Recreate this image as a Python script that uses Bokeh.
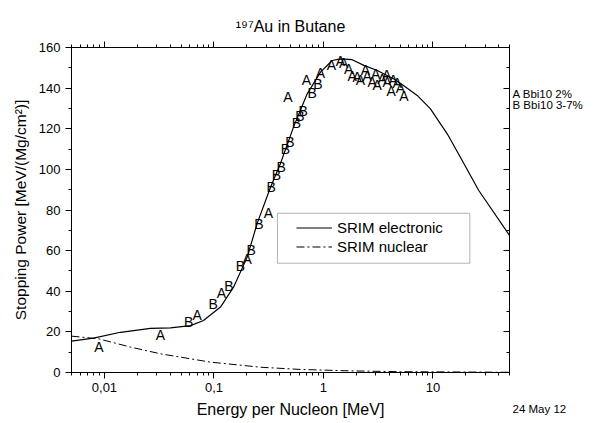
from bokeh.plotting import figure
from bokeh.models import (LogAxis, LinearAxis, FixedTicker, Legend, LegendItem,
                          BoxAnnotation, ColumnDataSource, Range1d)
from bokeh.core.properties import value
from bokeh.embed import file_html
from bokeh.resources import INLINE

FONT = "Liberation Sans"

# ---- data ----
E_el = [0.005, 0.00794, 0.0140, 0.0263, 0.0401, 0.0611, 0.0802, 0.1147, 0.1509,
        0.2012, 0.2482, 0.3284, 0.405, 0.5326, 0.7103, 0.940, 1.20, 1.43, 1.83,
        2.34, 3.10, 4.36, 5.38, 7.18, 9.49, 13.5, 17.8, 26.2, 50.0]
S_el = [15.4, 16.9, 19.8, 21.7, 22.0, 23.1, 25.6, 32.2, 42.0,
        56.8, 73.4, 91.2, 102.9, 120.8, 137.2, 147.9, 153.6, 154.4, 154.0,
        151.2, 148.7, 144.6, 141.3, 136.4, 129.8, 117.5, 106.0, 89.6, 67.5]

E_nu = [0.005, 0.00882, 0.0173, 0.0325, 0.093, 0.266, 0.617, 1.77, 5.05, 50.0]
S_nu = [17.9, 16.6, 12.5, 9.2, 5.1, 2.6, 1.5, 0.8, 0.4, 0.1]

A_E = [0.00888, 0.0325, 0.0703, 0.117, 0.2012, 0.315, 0.473, 0.70, 0.94, 1.18,
       1.43, 1.53, 1.70, 1.83, 2.03, 2.18, 2.42, 2.51, 2.79, 2.99, 3.10, 3.44,
       3.77, 3.82, 4.16, 4.33, 4.71, 5.05, 5.42]
A_S = [12.8, 18.7, 28.1, 39.0, 56.0, 78.3, 135.6, 143.8, 147.4, 151.2,
       153.3, 152.3, 149.5, 146.2, 145.4, 144.1, 148.7, 146.2, 142.9, 147.1, 141.3, 144.6,
       146.6, 142.9, 138.8, 144.1, 142.6, 140.0, 135.9]

B_E = [0.0589, 0.0984, 0.1366, 0.1747, 0.2188, 0.2567, 0.333, 0.372, 0.411,
       0.450, 0.493, 0.567, 0.608, 0.653, 0.789, 0.888]
B_S = [24.8, 33.8, 42.5, 52.2, 60.4, 73.2, 91.2, 97.0, 101.4,
       110.1, 113.4, 122.7, 126.5, 128.7, 137.5, 142.1]

x_major = [0.01, 0.1, 1, 10]
x_labels = ["0,01", "0,1", "1", "10"]
x_minor = [0.005, 0.006, 0.007, 0.008, 0.009,
           0.02, 0.03, 0.04, 0.05, 0.06, 0.07, 0.08, 0.09,
           0.2, 0.3, 0.4, 0.5, 0.6, 0.7, 0.8, 0.9,
           2, 3, 4, 5, 6, 7, 8, 9,
           20, 30, 40, 50]
y_major = [0, 20, 40, 60, 80, 100, 120, 140, 160]
y_minor = [10, 30, 50, 70, 90, 110, 130, 150]

title_text = "\u00b9\u2079\u2077Au in Butane"
date_text = "24 May 12"
series_labels = ["A Bbi10 2%", "B Bbi10 3-7%"]

# layout anchors for the texts at the right of the frame (axis coordinates)
KEY_ROWS = [137.1, 131.7]      # rows of the series key
DATE_ROW = 0                   # the date hangs below the frame's bottom edge
DATE_DROP = 5                  # blank lines pushing the date below the frame

# ---- figure ----
p = figure(width=593, height=423, x_axis_type="log",
           x_range=Range1d(0.005, 50), y_range=Range1d(0, 160),
           output_backend="svg", toolbar_location=None,
           min_border_left=71, min_border_right=84,
           min_border_top=47, min_border_bottom=51)
p.xgrid.visible = False
p.ygrid.visible = False
p.outline_line_color = "black"
p.background_fill_color = "white"
p.border_fill_color = "white"

p.title.text = title_text
p.title.align = "center"
p.title.offset = 6
p.title.standoff = 13
p.title.text_font = FONT
p.title.text_font_size = "16px"
p.title.text_font_style = "normal"
p.title.text_color = "black"

xt = FixedTicker(ticks=x_major, minor_ticks=x_minor)
yt = FixedTicker(ticks=y_major, minor_ticks=y_minor)


def style(ax, outward=True):
    ax.axis_line_color = "black"
    ax.major_tick_line_color = "black"
    ax.minor_tick_line_color = "black"
    if outward:
        ax.major_tick_out, ax.major_tick_in = 6, 0
        ax.minor_tick_out, ax.minor_tick_in = 3, 0
    else:
        ax.major_tick_out, ax.major_tick_in = 0, 6
        ax.minor_tick_out, ax.minor_tick_in = 0, 3
    ax.major_label_text_font = FONT
    ax.major_label_text_font_size = "13px"
    ax.major_label_text_color = "black"
    ax.axis_label_text_font = FONT
    ax.axis_label_text_font_style = "normal"
    ax.axis_label_text_color = "black"


xb = p.xaxis[0]
xb.ticker = xt
xb.major_label_overrides = {t: s for t, s in zip(x_major, x_labels)}
xb.axis_label = "Energy per Nucleon [MeV]"
style(xb)
xb.axis_label_text_font_size = "16px"
xb.major_label_standoff = 4
xb.axis_label_standoff = 6

yl = p.yaxis[0]
yl.ticker = yt
yl.axis_label = "Stopping Power [MeV/(Mg/cm\u00b2)]"
style(yl)
yl.axis_label_text_font_size = "15.5px"
yl.major_label_standoff = 5
yl.axis_label_standoff = 7

top = LogAxis(ticker=xt, major_label_overrides={t: "" for t in x_major})
style(top)
p.add_layout(top, "above")

right = LinearAxis(ticker=yt, major_label_overrides={t: "" for t in y_major})
style(right, outward=False)
right.major_label_standoff = 0
p.add_layout(right, "right")

# ---- curves ----
r_el = p.line(E_el, S_el, line_color="black", line_width=1.2)
r_nu = p.line(E_nu, S_nu, line_color="black", line_width=1, line_dash="8 3 2 3")

# ---- data letters ----
srcA = ColumnDataSource(dict(E=A_E, S=A_S, sym=["A"] * len(A_E)))
srcB = ColumnDataSource(dict(E=B_E, S=B_S, sym=["B"] * len(B_E)))
for src in (srcA, srcB):
    p.text(x="E", y="S", text="sym", source=src, text_align="center",
           text_baseline="middle", text_font=value(FONT),
           text_font_size="14px", text_color="black")

# ---- SRIM legend (inside) ----
box = BoxAnnotation(left=0.380, right=21.7, bottom=53.8, top=78.4,
                    fill_color="white", fill_alpha=1.0,
                    line_color="black", line_width=1, level="overlay")
p.add_layout(box)
legend = Legend(items=[LegendItem(label="SRIM electronic", renderers=[r_el]),
                       LegendItem(label="SRIM nuclear", renderers=[r_nu])],
                location=(225, 116), padding=0, margin=0, spacing=0,
                glyph_width=36, glyph_height=19, label_height=19,
                label_standoff=5, border_line_color=None,
                background_fill_alpha=0, label_text_font=FONT,
                label_text_font_size="15px", label_text_color="black")
p.add_layout(legend)

# ---- series key and date stamp, right of the frame ----
side_ticks = KEY_ROWS + [DATE_ROW]
side_texts = series_labels + ["\n" * DATE_DROP + date_text]
key_axis = LinearAxis(ticker=FixedTicker(ticks=side_ticks, minor_ticks=[]),
                      major_label_overrides={t: s for t, s in zip(side_ticks, side_texts)})
key_axis.axis_line_color = None
key_axis.major_tick_line_color = None
key_axis.minor_tick_line_color = None
key_axis.major_tick_out = key_axis.major_tick_in = 0
key_axis.minor_tick_out = key_axis.minor_tick_in = 0
key_axis.major_label_standoff = 3
key_axis.major_label_text_font = FONT
key_axis.major_label_text_font_size = "11.5px"
key_axis.major_label_text_color = "black"
p.add_layout(key_axis, "right")

open("out.html", "w").write(file_html(p, INLINE))
